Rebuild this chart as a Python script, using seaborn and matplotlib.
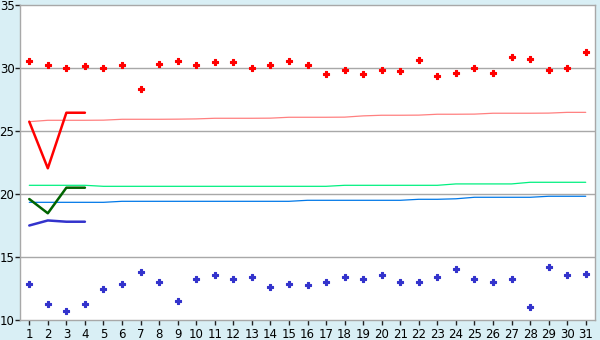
import matplotlib
matplotlib.use("Agg")
import matplotlib.pyplot as plt
import seaborn as sns
import pandas as pd

days = list(range(1, 32))

red_points = [30.53, 30.21, 29.98, 30.13, 29.98, 30.21, 28.3, 30.29, 30.53, 30.21,
              30.45, 30.45, 29.98, 30.21, 30.53, 30.21, 29.5, 29.82, 29.5, 29.82,
              29.74, 30.61, 29.34, 29.58, 29.98, 29.58, 30.85, 30.69, 29.82, 29.98, 31.25]
blue_points = [12.83, 11.24, 10.71, 11.24, 12.43, 12.83, 13.78, 13.0, 11.48, 13.23,
               13.55, 13.23, 13.39, 12.6, 12.83, 12.75, 12.99, 13.39, 13.23, 13.55,
               12.99, 12.99, 13.39, 14.02, 13.23, 12.99, 13.23, 11.01, 14.18, 13.55, 13.63]

pink_line = [25.74, 25.85, 25.85, 25.85, 25.86, 25.93, 25.93, 25.93, 25.94, 25.96,
             26.01, 26.01, 26.01, 26.02, 26.09, 26.09, 26.09, 26.1, 26.2, 26.25,
             26.25, 26.26, 26.33, 26.33, 26.34, 26.41, 26.41, 26.41, 26.42, 26.48, 26.48]
green_line = [20.69, 20.69, 20.69, 20.69, 20.61, 20.61, 20.61, 20.61, 20.61, 20.61,
              20.61, 20.61, 20.61, 20.61, 20.61, 20.61, 20.61, 20.69, 20.69, 20.69,
              20.69, 20.69, 20.69, 20.8, 20.8, 20.8, 20.8, 20.93, 20.93, 20.93, 20.93]
blue_line = [19.34, 19.34, 19.34, 19.34, 19.34, 19.42, 19.42, 19.42, 19.42, 19.42,
             19.42, 19.42, 19.42, 19.42, 19.42, 19.5, 19.5, 19.5, 19.5, 19.5,
             19.5, 19.58, 19.58, 19.62, 19.74, 19.74, 19.74, 19.74, 19.82, 19.82, 19.82]

short_days = [1, 2, 3, 4]
red_thick = [25.74, 22.04, 26.45, 26.45]
green_thick = [19.6, 18.47, 20.5, 20.5]
blue_thick = [17.5, 17.9, 17.8, 17.8]

yticks = [10, 15, 20, 25, 30, 35]

sns.set_style("white")
plt.rcParams['font.family'] = ['DejaVu Sans']

bg = "#d9eff5"
fig = plt.figure(figsize=(6, 3.4), dpi=100, facecolor=bg)
ax = fig.add_axes([20/600, 1-320/340, 575/600, 315/340])
ax.set_facecolor("white")

for yv in [15, 20, 25, 30]:
    ax.axhline(yv, color="#a8a8a8", lw=1.0, zorder=0)

long_df = pd.DataFrame({"day": days, "pink": pink_line, "green": green_line, "blue": blue_line,
                        "rp": red_points, "bp": blue_points})
short_df = pd.DataFrame({"day": short_days, "r": red_thick, "g": green_thick, "b": blue_thick})

sns.lineplot(data=long_df, x="day", y="pink", color="#ff8080", lw=0.9, ax=ax)
sns.lineplot(data=long_df, x="day", y="green", color="#00f080", lw=0.9, ax=ax)
sns.lineplot(data=long_df, x="day", y="blue", color="#0078e8", lw=0.9, ax=ax)

sns.lineplot(data=short_df, x="day", y="r", color="#ff0000", lw=1.8, ax=ax)
sns.lineplot(data=short_df, x="day", y="g", color="#006400", lw=1.8, ax=ax)
sns.lineplot(data=short_df, x="day", y="b", color="#3333cc", lw=1.8, ax=ax)

sns.scatterplot(data=long_df, x="day", y="rp", color="#ff0000", marker="P", s=16,
                linewidth=0.8, edgecolor="#ff0000", ax=ax, zorder=5)
sns.scatterplot(data=long_df, x="day", y="bp", color="#3333cc", marker="P", s=16,
                linewidth=0.8, edgecolor="#3333cc", ax=ax, zorder=5)

ax.set_xlim(0.5, 31.5)
ax.set_ylim(10, 35)
ax.set_xticks(days)
ax.set_xticklabels([str(d) for d in days])
ax.set_yticks(yticks)
ax.set_yticklabels([str(v) for v in yticks])
ax.set_xlabel("")
ax.set_ylabel("")

for side in ["left", "right", "top", "bottom"]:
    ax.spines[side].set_visible(True)
    ax.spines[side].set_color("#a8a8a8")
    ax.spines[side].set_linewidth(1.0)

ax.tick_params(axis="both", direction="out", length=3.5, width=1, color="#202020",
               labelsize=8.5, labelcolor="black")
ax.tick_params(axis="x", pad=2)
ax.tick_params(axis="y", pad=0.5)
ax.tick_params(left=True, bottom=True)

fig.savefig("out.png", dpi=100, facecolor=bg)
